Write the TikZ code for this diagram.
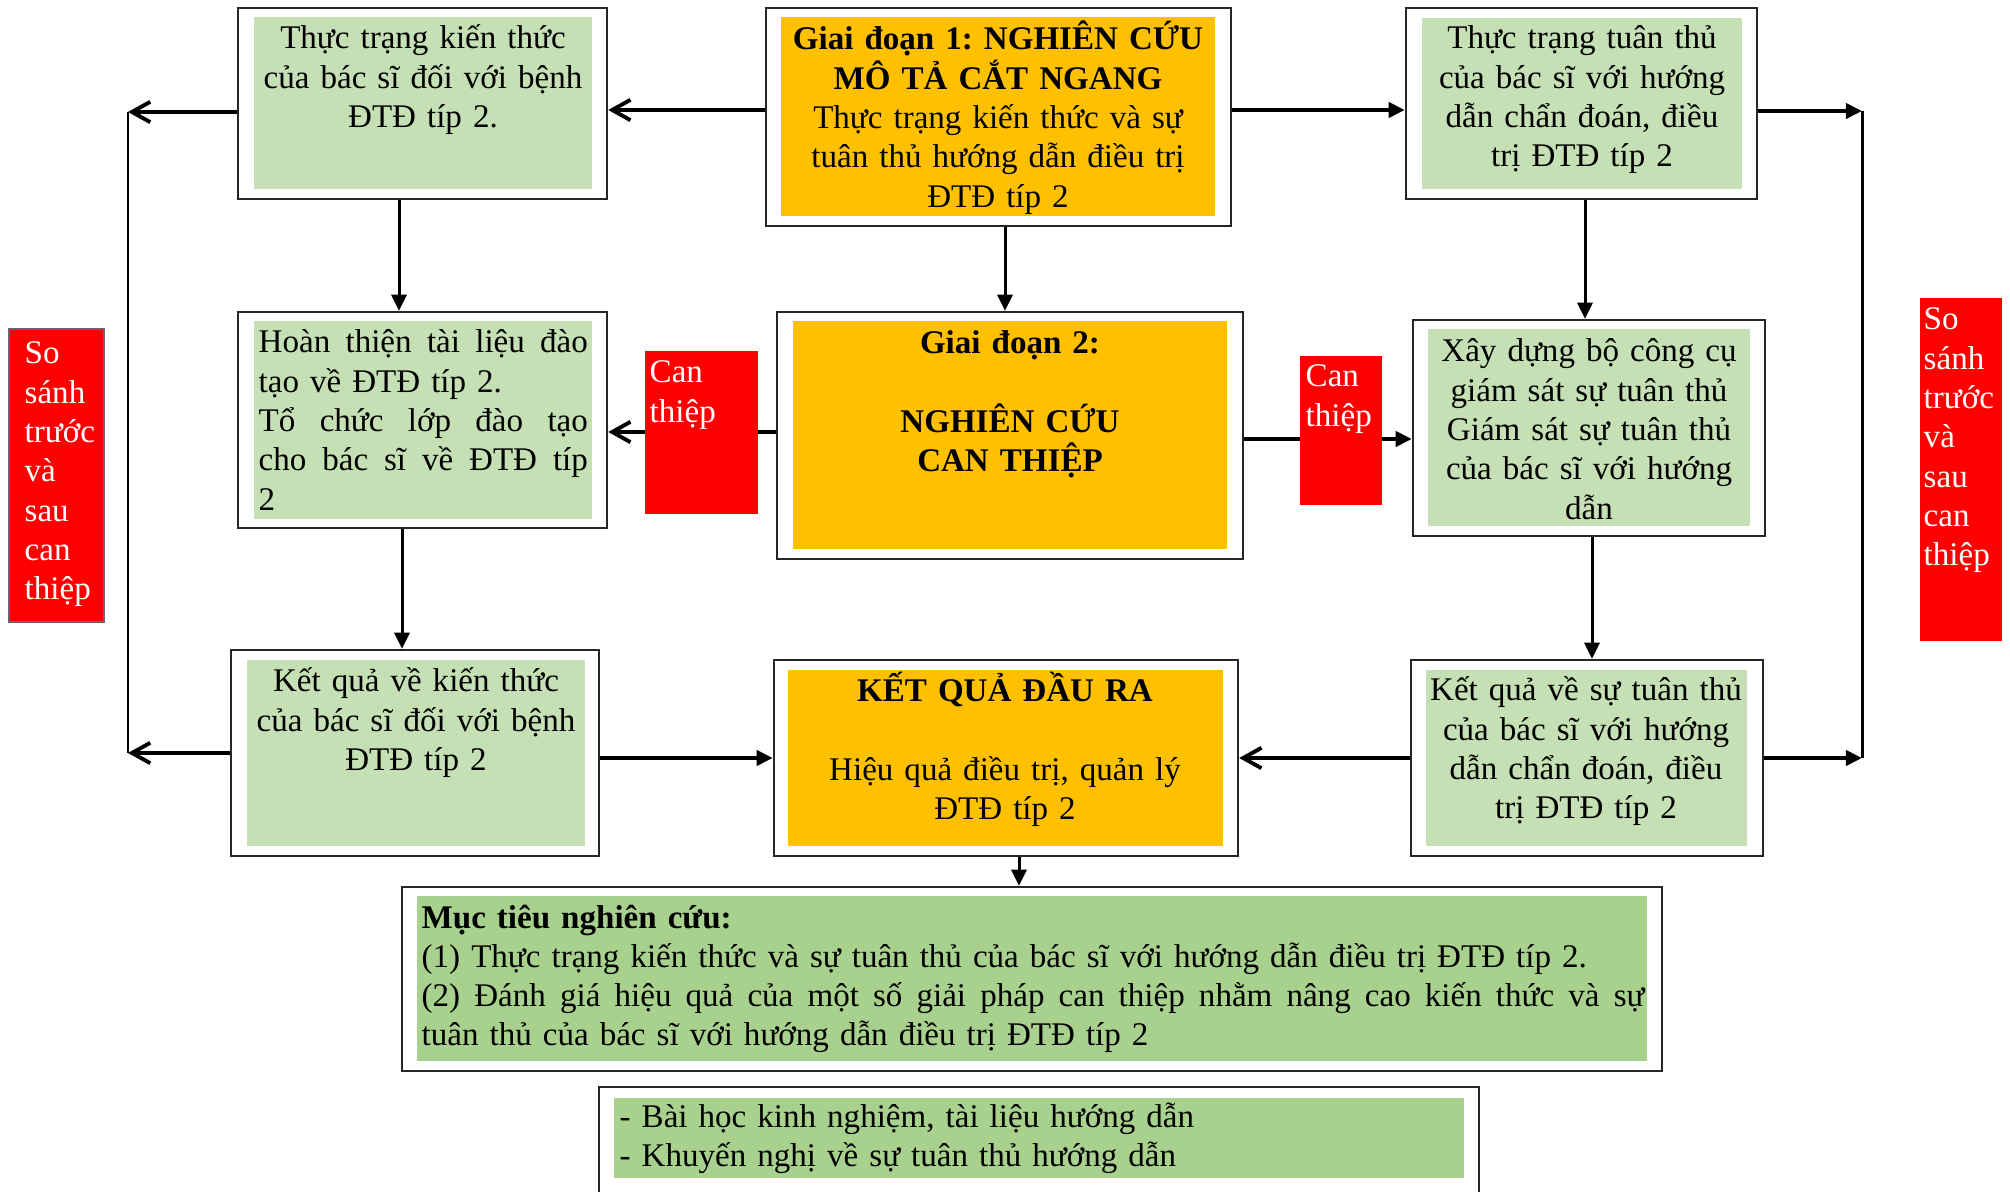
\documentclass[tikz,border=0pt]{standalone}
\usepackage{fontspec}
\setmainfont{Liberation Serif}
\usetikzlibrary{arrows.meta,fit}
\definecolor{lg}{HTML}{C5E0B4}
\definecolor{og}{HTML}{FFC000}
\definecolor{mg}{HTML}{A9D18E}
\definecolor{rd}{HTML}{FF0000}
\begin{document}
\begin{tikzpicture}[x=0.01cm,y=-0.01cm,
  obox/.style={draw=black!85, line width=0.7pt, inner sep=0pt},
  rbox/.style={fill=rd, inner sep=0pt},
  txt/.style={font=\fontsize{9.4pt}{11.17pt}\selectfont\frenchspacing, inner sep=0pt, anchor=base, align=center, text width=4.6cm},
  ltxt/.style={font=\fontsize{9.4pt}{11.17pt}\selectfont\frenchspacing, inner sep=0pt, anchor=base west, align=left},
  wtxt/.style={ltxt, text=white, text width=1cm},
  hl/.style={line width=1.1pt},
  vl/.style={line width=0.85pt},
  fa/.style={-{Triangle[length=4.6pt,width=4.3pt]}},
  ba/.style={-{Straight Barb[length=5.2pt,width=5.8pt]}},
]
\useasboundingbox (0,0) rectangle (2010,1192);
\fill[white] (0,0) rectangle (2010,1192);

% inner fills
\fill[lg] (254,17) rectangle (592,189);
\fill[og] (781,17) rectangle (1215,216);
\fill[lg] (1422,18) rectangle (1742,189);
\fill[lg] (254,321) rectangle (592,519);
\fill[og] (793,321) rectangle (1227,549);
\fill[lg] (1428,329) rectangle (1750,526);
\fill[lg] (247,660) rectangle (585,846);
\fill[og] (788,670) rectangle (1223,846);
\fill[lg] (1426,670) rectangle (1747,846);
\fill[mg] (417,896) rectangle (1647,1061);
\fill[mg] (614,1098) rectangle (1464,1178);

% outer boxes
\node[obox, fit={(238,8)(607,199)}] (A) {};
\node[obox, fit={(766,8)(1231,226)}] (G1) {};
\node[obox, fit={(1406,8)(1757,199)}] (C) {};
\node[obox, fit={(238,312)(607,528)}] (B) {};
\node[obox, fit={(777,312)(1243,559)}] (G2) {};
\node[obox, fit={(1413,320)(1765,536)}] (D) {};
\node[obox, fit={(231,650)(599,856)}] (E) {};
\node[obox, fit={(774,660)(1238,856)}] (KQ) {};
\node[obox, fit={(1411,660)(1763,856)}] (F) {};
\node[obox, fit={(402,887)(1662,1071)}] (M) {};
\node[obox, fit={(599,1087)(1479,1197)}] (N) {};

% texts
\node[txt] (tA) at (423,49) {Thực trạng kiến thức\\của bác sĩ đối với bệnh\\ĐTĐ típ 2.};
\node[txt] (tG1) at (998,50) {\textbf{Giai đoạn 1: NGHIÊN CỨU}\\\textbf{MÔ TẢ CẮT NGANG}\\Thực trạng kiến thức và sự\\tuân thủ hướng dẫn điều trị\\ĐTĐ típ 2};
\node[txt] (tC) at (1582,49) {Thực trạng tuân thủ\\của bác sĩ với hướng\\dẫn chẩn đoán, điều\\trị ĐTĐ típ 2};
\node[ltxt, text width=3.29cm] (tB) at (258,353) {\leavevmode\hbox to 3.29cm{Hoàn\hfill thiện\hfill tài\hfill liệu\hfill đào}\\tạo về ĐTĐ típ 2.\\\leavevmode\hbox to 3.29cm{Tổ\hfill chức\hfill lớp\hfill đào\hfill tạo}\\\leavevmode\hbox to 3.29cm{cho\hfill bác\hfill sĩ\hfill về\hfill ĐTĐ\hfill típ}\\2};
\node[txt] (tG2) at (1010,354) {\textbf{Giai đoạn 2:}\\ \mbox{}\\ \textbf{NGHIÊN CỨU}\\\textbf{CAN THIỆP}};
\node[txt] (tD) at (1589,362) {Xây dựng bộ công cụ\\giám sát sự tuân thủ\\Giám sát sự tuân thủ\\của bác sĩ với hướng\\dẫn};
\node[txt] (tE) at (416,692) {Kết quả về kiến thức\\của bác sĩ đối với bệnh\\ĐTĐ típ 2};
\node[txt] (tKQ) at (1005,702) {\textbf{KẾT QUẢ ĐẦU RA}\\ \mbox{}\\ Hiệu quả điều trị, quản lý\\ĐTĐ típ 2};
\node[txt] (tF) at (1586,701) {Kết quả về sự tuân thủ\\của bác sĩ với hướng\\dẫn chẩn đoán, điều\\trị ĐTĐ típ 2};
\node[ltxt, text width=12.22cm] (tM) at (421,928) {\textbf{Mục tiêu nghiên cứu:}\\(1) Thực trạng kiến thức và sự tuân thủ của bác sĩ với hướng dẫn điều trị ĐTĐ típ 2.\\\leavevmode\hbox to 12.22cm{(2)\hfill Đánh\hfill giá\hfill hiệu\hfill quả\hfill của\hfill một\hfill số\hfill giải\hfill pháp\hfill can\hfill thiệp\hfill nhằm\hfill nâng\hfill cao\hfill kiến\hfill thức\hfill và\hfill sự}\\tuân thủ của bác sĩ với hướng dẫn điều trị ĐTĐ típ 2};
\node[ltxt, text width=8.4cm] (tN) at (619,1127) {- Bài học kinh nghiệm, tài liệu hướng dẫn\\- Khuyến nghị về sự tuân thủ hướng dẫn};

% connectors
\coordinate (LT) at (128,112);
\coordinate (LB) at (128,753);
\coordinate (RT) at (1862,111);
\coordinate (RB) at (1862,758);
\draw[vl] (LT) -- (LB);
\draw[vl] (RT) -- (RB);
\draw[hl,ba] (G1.west |- 0,110) -- (A.east |- 0,110);
\draw[hl,ba] (A.west |- 0,112) -- (LT);
\draw[hl,fa] (G1.east |- 0,110) -- (C.west |- 0,110);
\draw[hl,fa] (C.east |- 0,111) -- (RT);
\draw[vl,fa] (A.south -| 399,0) -- (B.north -| 399,0);
\draw[vl,fa] (G1.south -| 1005,0) -- (G2.north -| 1005,0);
\draw[vl,fa] (C.south -| 1585,0) -- (D.north -| 1585,0);
\draw[hl,ba] (G2.west |- 0,432) -- (B.east |- 0,432);
\draw[hl,fa] (G2.east |- 0,439) -- (D.west |- 0,439);
\draw[vl,fa] (B.south -| 402,0) -- (E.north -| 402,0);
\draw[vl,fa] (D.south -| 1592,0) -- (F.north -| 1592,0);
\draw[hl,ba] (E.west |- 0,753) -- (LB);
\draw[hl,fa] (E.east |- 0,758) -- (KQ.west |- 0,758);
\draw[hl,ba] (F.west |- 0,758) -- (KQ.east |- 0,758);
\draw[hl,fa] (F.east |- 0,758) -- (RB);
\draw[vl,fa] (KQ.south -| 1019,0) -- (M.north -| 1019,0);

% red boxes
\node[rbox, fit={(645,351)(758,514)}] (RL) {};
\node[rbox, fit={(1300,356)(1382,505)}] (RR) {};
\node[rbox, draw=black!60, line width=0.3pt, fit={(9,329)(104,622)}] (SL) {};
\node[rbox, fit={(1920,298)(2002,641)}] (SR) {};
\node[wtxt] (tRL) at (649,383) {Can\\thiệp};
\node[wtxt] (tRR) at (1305,387) {Can\\thiệp};
\node[wtxt] (tSL) at (24,364) {So\\sánh\\trước\\và\\sau\\can\\thiệp};
\node[wtxt] (tSR) at (1923,330) {So\\sánh\\trước\\và\\sau\\can\\thiệp};
\end{tikzpicture}
\end{document}
